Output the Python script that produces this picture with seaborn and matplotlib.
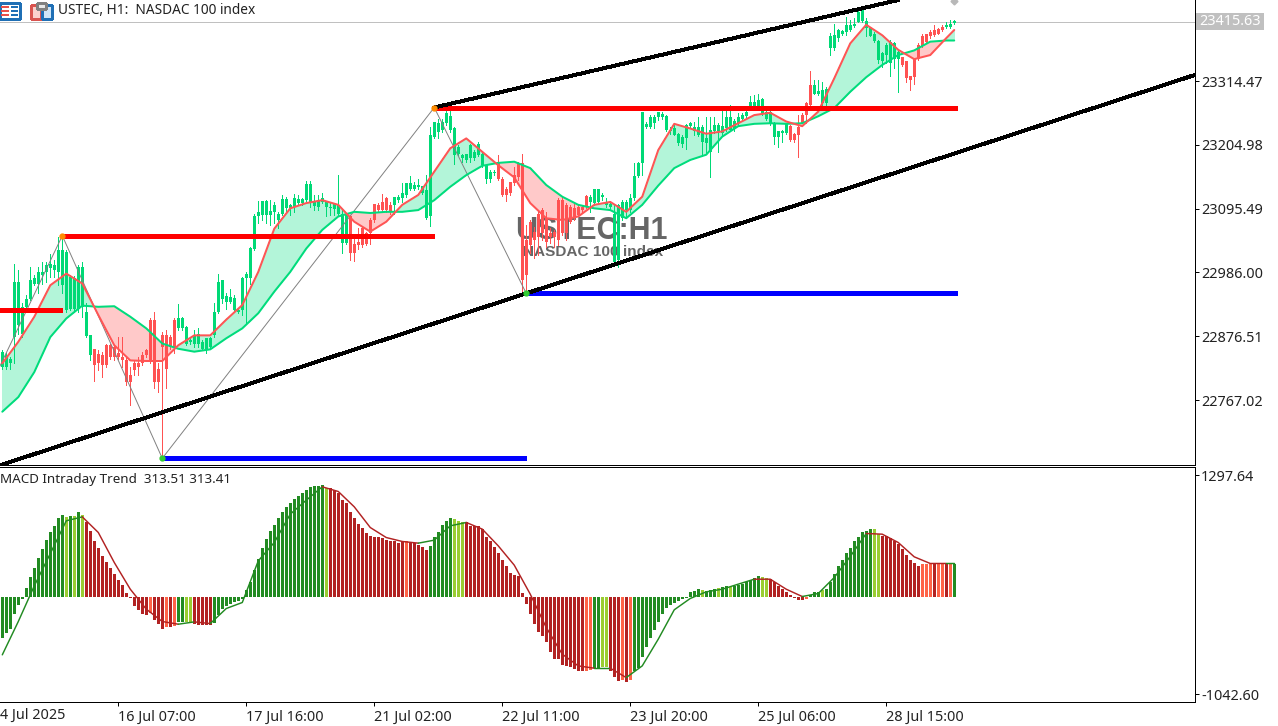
import numpy as np
import pandas as pd
import matplotlib
matplotlib.use("Agg")
import matplotlib.pyplot as plt
from matplotlib.patches import Rectangle
import seaborn as sns

# candles (one entry per bar)
body_top = [
    22850,22844,22837,22970,22970,22927,22941,22973,22976,22987,
    22987,22998,23001,22998,23024,23024,23021,22978,22977,22996,
    22996,22918,22878,22854,22846,22844,22861,22861,22858,22847,
    22841,22835,22810,22830,22830,22844,22853,22904,22904,22821,
    22878,22878,22875,22904,22907,22907,22893,22870,22878,22881,
    22867,22873,22873,22918,22970,22973,22946,22943,22942,22921,
    22977,22983,23028,23083,23090,23108,23108,23092,23102,23087,
    23112,23112,23102,23113,23112,23112,23138,23138,23109,23110,
    23113,23107,23099,23103,23102,23087,23084,23082,23035,23039,
    23062,23053,23076,23104,23102,23107,23113,23102,23115,23115,
    23122,23139,23139,23136,23136,23135,23127,23221,23244,23242,
    23245,23259,23254,23234,23202,23187,23189,23205,23193,23207,
    23190,23170,23159,23159,23174,23147,23130,23141,23153,23173,
    23173,23042,23073,23056,23087,23093,23079,23053,23056,23110,
    23110,23102,23099,23096,23099,23099,23117,23116,23129,23129,
    23119,23107,23104,23087,23102,23107,23107,23113,23151,23173,
    23262,23241,23253,23253,23262,23258,23254,23230,23233,23224,
    23219,23239,23242,23236,23235,23236,23216,23230,23239,23239,
    23237,23253,23253,23246,23252,23256,23262,23279,23279,23282,
    23283,23262,23262,23243,23229,23229,23241,23237,23224,23235,
    23256,23276,23308,23308,23298,23299,23300,23391,23393,23402,
    23401,23411,23411,23412,23433,23436,23418,23405,23396,23384,
    23362,23376,23382,23380,23365,23355,23348,23323,23352,23376,
    23392,23395,23399,23402,23403,23408,23410,23412,23417,
]
body_bottom = [
    22824,22824,22830,22875,22895,22881,22927,22941,22967,22967,
    22981,22987,22993,22990,22987,22964,22921,22924,22924,22924,
    22927,22877,22844,22827,22831,22827,22827,22841,22841,22841,
    22835,22798,22798,22818,22824,22830,22844,22835,22798,22798,
    22858,22821,22858,22858,22890,22890,22864,22867,22864,22864,
    22855,22855,22858,22878,22918,22941,22936,22936,22921,22918,
    22921,22976,22976,23026,23082,23084,23084,23084,23090,23076,
    23087,23096,23096,23099,23106,23106,23110,23107,23100,23099,
    23107,23098,23096,23094,23087,23036,23036,23020,23020,23033,
    23033,23035,23053,23076,23093,23093,23093,23090,23102,23110,
    23113,23119,23129,23130,23133,23122,23079,23082,23219,23227,
    23230,23242,23230,23187,23190,23182,23179,23182,23182,23187,
    23170,23147,23147,23156,23146,23119,23119,23122,23139,23149,
    22973,22982,23033,23042,23047,23053,23039,23047,23047,23042,
    23053,23053,23073,23079,23084,23093,23099,23107,23106,23107,
    23116,23102,23098,23004,23007,23079,23093,23093,23113,23151,
    23173,23235,23235,23242,23253,23252,23230,23229,23222,23208,
    23206,23216,23237,23229,23222,23209,23208,23193,23228,23229,
    23226,23233,23230,23232,23242,23250,23254,23270,23272,23272,
    23259,23249,23241,23218,23219,23225,23225,23214,23214,23222,
    23243,23256,23273,23293,23293,23276,23276,23371,23371,23389,
    23396,23398,23402,23409,23416,23418,23405,23392,23384,23351,
    23349,23359,23345,23353,23352,23342,23320,23316,23321,23352,
    23375,23382,23392,23393,23396,23402,23407,23407,23414,
]
wick_high = [
    22853,22847,22841,23000,22991,22933,22947,22996,22981,22996,
    23004,23004,23018,23007,23047,23044,23024,22981,22980,22998,
    23004,22933,22878,22854,22853,22850,22864,22864,22861,22875,
    22875,22841,22824,22835,22841,22850,22855,22907,22918,22830,
    22884,22887,22878,22907,22932,22910,22894,22873,22887,22890,
    22870,22873,22875,22934,22984,22973,22950,22958,22947,22924,
    22978,22987,23030,23086,23108,23108,23110,23110,23107,23090,
    23119,23116,23104,23120,23119,23113,23143,23143,23119,23119,
    23122,23107,23106,23106,23153,23093,23087,23082,23047,23062,
    23064,23056,23079,23104,23106,23121,23116,23107,23115,23119,
    23139,23140,23151,23142,23147,23135,23153,23236,23244,23250,
    23250,23264,23264,23236,23205,23190,23190,23207,23196,23210,
    23193,23170,23162,23162,23187,23149,23133,23142,23167,23176,
    23190,23067,23076,23064,23093,23096,23090,23062,23059,23113,
    23116,23105,23102,23104,23104,23102,23119,23119,23130,23130,
    23122,23113,23107,23102,23104,23111,23111,23121,23173,23176,
    23262,23245,23256,23256,23262,23262,23256,23236,23242,23225,
    23222,23241,23245,23245,23252,23239,23253,23252,23253,23242,
    23272,23272,23273,23250,23259,23259,23265,23288,23290,23293,
    23285,23265,23265,23245,23229,23230,23243,23239,23225,23256,
    23259,23279,23332,23316,23316,23313,23305,23397,23413,23403,
    23402,23424,23419,23422,23437,23437,23422,23408,23399,23385,
    23365,23379,23385,23382,23368,23356,23349,23323,23353,23379,
    23395,23396,23402,23411,23405,23411,23415,23419,23419,
]
wick_low = [
    22821,22821,22821,22830,22881,22875,22921,22938,22964,22950,
    22967,22970,22978,22978,22964,22950,22918,22921,22918,22918,
    22910,22875,22835,22799,22818,22807,22824,22838,22835,22838,
    22824,22793,22758,22810,22810,22827,22841,22830,22787,22781,
    22670,22787,22855,22847,22887,22887,22861,22864,22858,22858,
    22853,22848,22855,22875,22916,22933,22924,22933,22918,22916,
    22913,22898,22967,23024,23070,23076,23070,23067,23070,23062,
    23084,23090,23084,23090,23104,23102,23109,23099,23093,23093,
    23106,23082,23084,23084,23084,23019,23035,23007,23006,23027,
    23030,23033,23035,23073,23092,23090,23090,23087,23087,23107,
    23107,23116,23127,23127,23130,23121,23078,23066,23216,23216,
    23227,23239,23227,23172,23187,23176,23176,23176,23179,23185,
    23167,23139,23142,23153,23145,23117,23109,23119,23136,23145,
    22953,22953,23019,23010,23016,23042,23030,23036,23030,23033,
    23050,23042,23070,23076,23082,23090,23096,23090,23102,23104,
    23110,23099,23093,22999,22996,23076,23079,23090,23110,23149,
    23153,23233,23233,23233,23248,23250,23228,23223,23222,23205,
    23202,23198,23236,23222,23220,23185,23190,23149,23225,23192,
    23222,23228,23228,23228,23239,23248,23253,23268,23270,23268,
    23256,23248,23239,23206,23201,23209,23224,23212,23210,23184,
    23242,23242,23272,23292,23290,23273,23270,23359,23368,23384,
    23393,23393,23401,23408,23415,23416,23391,23391,23382,23345,
    23339,23345,23323,23336,23296,23340,23313,23299,23310,23351,
    23373,23380,23389,23392,23395,23401,23405,23405,23412,
]
# bars where the candles are drawn red (first, last)
red_spans = [(23, 43), (87, 97), (124, 146), (197, 202), (225, 235)]

# moving averages, read every 4th bar
ma_bars = list(range(0, 237, 4)) + [238]
ma_fast = [
    22830,22867,22910,22964,22984,22967,22913,22861,22835,22834,22834,22861,22878,22878,22905,
    22930,22987,23061,23096,23105,23110,23102,23073,23056,23073,23102,23119,23159,23199,23216,
    23193,23170,23149,23105,23079,23076,23082,23102,23107,23090,23116,23196,23241,23233,23224,
    23228,23242,23256,23260,23245,23237,23262,23319,23379,23411,23393,23368,23352,23359,23388,23402,
]
ma_slow = [
    22747,22772,22815,22875,22907,22929,22927,22928,22910,22890,22864,22855,22850,22854,22873,
    22890,22916,22953,22987,23027,23059,23082,23090,23088,23090,23090,23093,23110,23133,23153,
    23169,23174,23176,23165,23136,23116,23102,23096,23093,23079,23102,23135,23165,23179,23188,
    23219,23237,23241,23242,23241,23242,23254,23268,23296,23321,23342,23359,23367,23382,23384,23384,
]

# zigzag and drawn levels
zigzag_bars = [-2, 15, 40, 108, 131]
zigzag_prices = [22805, 23049, 22667, 23269, 22950]
red_levels = [(-1, 15, 22921), (15, 108, 23049), (108, 238.7, 23269)]
blue_levels = [(40, 131, 22667), (131, 238.7, 22950)]
lower_channel = ([-0.6, 298.2], [22655, 23325])
upper_channel = ([108, 224], [23269, 23453.5])
last_price = 23415.63

# MACD histogram
hist = [
    -445,-392,-346,-185,-89,-28,89,207,303,410,506,606,687,755,837,866,848,855,862,898,
    866,791,695,598,516,435,367,303,239,178,118,36,-18,-100,-142,-185,-196,-178,-256,-292,
    -346,-331,-321,-313,-267,-267,-267,-267,-292,-303,-303,-303,-303,-285,-196,-135,-100,-78,-61,-53,
    -28,71,160,285,399,516,613,695,766,837,898,955,997,1044,1069,1104,1140,1175,1183,1186,
    1193,1158,1158,1140,1104,1033,997,908,837,777,730,677,648,641,634,623,606,588,588,577,
    588,588,577,570,552,534,492,541,634,687,766,812,844,830,812,791,801,755,755,748,
    723,641,588,527,463,392,321,256,232,214,36,-78,-185,-292,-381,-427,-481,-588,-666,-666,
    -730,-741,-755,-777,-791,-791,-791,-784,-766,-759,-755,-755,-801,-862,-898,-891,-908,-891,-801,-766,
    -641,-541,-445,-356,-267,-185,-125,-96,-64,-43,-25,-11,43,57,78,71,64,71,85,93,
    100,107,100,114,121,135,150,178,196,214,207,196,185,150,114,78,53,18,-18,-32,
    -36,-25,18,43,53,71,78,160,242,328,392,463,516,588,641,684,702,720,720,670,
    648,648,623,588,563,506,445,385,356,328,349,349,346,346,346,346,346,346,349,
]
hist_runs = [
    ("g",16),("l",1),("g",1),("l",1),("g",1),("l",1),("r",16),("s",1),("r",3),("s",1),("r",1),("s",1),
    ("g",2),("l",2),("r",5),("g",28),("l",1),("r",19),("s",1),("r",5),("g",6),("l",3),("r",30),("s",2),
    ("g",2),("l",2),("r",3),("s",1),("r",1),("s",1),("g",17),("l",1),("g",3),("l",1),("g",2),("l",1),
    ("g",7),("l",2),("r",9),("s",1),("g",3),("l",1),("g",12),("l",2),("r",10),("s",3),("r",1),("s",2),
    ("r",1),("s",1),("g",1),
]
hist_palette = {"g": "#228B22", "l": "#9ACD32", "r": "#B22222", "s": "#FF6347"}

# MACD signal line, read every 4th bar, coloured by runs of segments
signal = [
    -623,-267,114,459,809,851,684,363,78,-135,-267,-296,-271,-289,-128,-64,381,577,880,1029,
    1172,1122,958,737,630,588,570,602,755,791,720,541,335,25,-331,-616,-741,-766,-766,-866,
    -741,-456,-142,-21,50,78,132,185,185,78,0,32,203,427,673,666,577,424,353,353,353,
]
signal_runs = [
    ("g",5),("r",6),("g",1),("r",1),("g",7),("r",6),("g",3),("r",8),("g",1),("r",1),("g",8),
    ("r",3),("g",4),("r",5),("g",1),
]

price_ticks = [23423.96, 23314.47, 23204.98, 23095.49, 22986.00, 22876.51, 22767.02]
macd_ticks = [1297.64, -1042.60]
time_bars = [29, 61, 93, 125, 157, 189, 221]
time_labels = ["16 Jul 07:00", "17 Jul 16:00", "21 Jul 02:00", "22 Jul 11:00",
               "23 Jul 20:00", "25 Jul 06:00", "28 Jul 15:00"]

W, H = 1278, 726
FONT = "Noto Sans"
GREEN, RED = "#00D976", "#FF5252"
TICK_SIZE = 10.4

sns.set_theme(style="white")
plt.rcParams["font.family"] = [FONT, "DejaVu Sans"]
plt.rcParams["lines.antialiased"] = False
plt.rcParams["patch.antialiased"] = False

fig = plt.figure(figsize=(W / 100, H / 100), dpi=100, facecolor="white")
ax1 = fig.add_axes([0, 1 - 464.5 / H, 1195 / W, 464.5 / H])
ax2 = fig.add_axes([0, 1 - 702 / H, 1195 / W, (702 - 466.5) / H])

bars = np.arange(len(body_top))
is_red = np.zeros(len(bars), dtype=bool)
for first, last in red_spans:
    is_red[first:last + 1] = True
candle_colors = np.where(is_red, RED, GREEN)

# watermark sits behind everything
ax1.text(591.5 / W, 1 - 231.5 / H, "USTEC:H1", transform=fig.transFigure, ha="center", va="center",
         fontsize=22, fontweight="bold", family="Liberation Sans", color="#666666", zorder=0.5)
ax1.text(593 / W, 1 - 251.5 / H, "NASDAC 100 index", transform=fig.transFigure, ha="center", va="center",
         fontsize=11.1, fontweight="bold", family="Liberation Sans", color="#666666", zorder=0.5)

ma_x = np.array(ma_bars)
fast = np.array(ma_fast)
slow = np.array(ma_slow)
ax1.fill_between(ma_x, fast, slow, where=fast >= slow, interpolate=True, color="#B3F5D9", lw=0, zorder=1)
ax1.fill_between(ma_x, fast, slow, where=fast <= slow, interpolate=True, color="#FFC9C9", lw=0, zorder=1)

ax1.vlines(bars, wick_low, wick_high, colors=candle_colors, lw=0.72, antialiased=False, zorder=2)
ax1.bar(bars, np.array(body_top) - np.array(body_bottom), bottom=body_bottom, width=0.76,
        color=candle_colors, linewidth=0, antialiased=False, zorder=2.1)

sns.lineplot(x=zigzag_bars, y=zigzag_prices, color="#808080", linewidth=0.7, estimator=None, sort=False,
             antialiased=True, ax=ax1, zorder=2.5)
sns.lineplot(x=ma_bars, y=ma_slow, color="#00DC7C", linewidth=1.45, estimator=None, antialiased=True, ax=ax1, zorder=3)
sns.lineplot(x=ma_bars, y=ma_fast, color="#FF5555", linewidth=1.45, estimator=None, antialiased=True, ax=ax1, zorder=3.1)

for start, end, level in red_levels:
    ax1.plot([start, end], [level, level], color="#FF0000", lw=3.4, solid_capstyle="butt", zorder=4)
for start, end, level in blue_levels:
    ax1.plot([start, end], [level, level], color="#0000FF", lw=3.4, solid_capstyle="butt", zorder=4)
ax1.plot(*lower_channel, color="black", lw=2.1, zorder=4.5)
ax1.plot(*upper_channel, color="black", lw=2.1, zorder=4.5)
ax1.axhline(last_price, color="#C0C0C0", lw=0.72, zorder=1.5)

ax1.plot([15, 108], [zigzag_prices[1], zigzag_prices[3]], ls="", marker="o", ms=3.5, color="#FF8C00", zorder=5)
ax1.plot([40, 131], [zigzag_prices[2], zigzag_prices[4]], ls="", marker="o", ms=3.5, color="#32CD32", zorder=5)
ax1.plot([238], [23451], ls="", marker="D", ms=3.5, color="#B8B8B8", zorder=5)

ax1.set_xlim(-0.575, 298.2)
ax1.set_ylim(22656.4, 23453.5)
ax1.set_xticks([])
ax1.set_xlabel("")
ax1.set_ylabel("")
ax1.yaxis.tick_right()
ax1.set_yticks(price_ticks)
ax1.set_yticklabels([f"{t:.2f}" for t in price_ticks])

# indicator window
hist_states = "".join(s * n for s, n in hist_runs)
df = pd.DataFrame({"bar": bars, "hist": hist, "state": list(hist_states)})
sns.barplot(data=df, x="bar", y="hist", hue="state", palette=hist_palette, native_scale=True,
            dodge=False, width=0.76, saturation=1, legend=False, linewidth=0, antialiased=False,
            ax=ax2, zorder=2)

signal_bars = ma_bars
pos = 0
for state, n in signal_runs:
    sns.lineplot(x=signal_bars[pos:pos + n + 1], y=signal[pos:pos + n + 1], color=hist_palette[state],
                 linewidth=1.05, estimator=None, antialiased=True, ax=ax2, zorder=3)
    pos += n

ax2.set_xlim(-0.575, 298.2)
ax2.set_ylim(-1127, 1389)
ax2.set_xlabel("")
ax2.set_ylabel("")
ax2.yaxis.tick_right()
ax2.set_yticks(macd_ticks)
ax2.set_yticklabels([f"{t:.2f}" for t in macd_ticks])
ax2.set_xticks(time_bars)
ax2.set_xticklabels(time_labels, ha="left")

for ax in (ax1, ax2):
    for side in ("left", "top"):
        ax.spines[side].set_visible(False)
    for side in ("right", "bottom"):
        ax.spines[side].set_color("black")
        ax.spines[side].set_linewidth(0.72)
    ax.tick_params(axis="y", length=3, width=0.72, color="black", pad=1.5, labelsize=TICK_SIZE, labelcolor="#222222", right=True, left=False)
    ax.patch.set_alpha(0)
ax2.spines["top"].set_visible(True)
ax2.spines["top"].set_color("black")
ax2.spines["top"].set_linewidth(0.72)
ax2.tick_params(axis="x", length=3, width=0.72, color="black", pad=2.5, labelsize=TICK_SIZE, labelcolor="#222222", bottom=True)

# left-most texts, the reference shows them running up to the window edge
fig.text(0.5 / W, 1 - 715 / H, "4 Jul 2025", ha="left", va="center", fontsize=TICK_SIZE, color="#222222")
fig.text(0.5 / W, 1 - 479 / H, "MACD Intraday Trend  313.51 313.41", ha="left", va="center", fontsize=9.7, color="#222222")

# current price tag
fig.add_artist(Rectangle((1196 / W, 1 - 30 / H), 68 / W, 17 / H, transform=fig.transFigure, color="#C0C0C0", lw=0))
fig.text(1230 / W, 1 - 21.5 / H, "23415.63", ha="center", va="center", fontsize=TICK_SIZE, color="white")

# header
fig.add_artist(Rectangle((0, 1 - 19 / H), 20 / W, 16 / H, transform=fig.transFigure, fc="white", ec="#1F6FB5", lw=0.9))
for y in (7, 11, 15):
    fig.add_artist(Rectangle((1 / W, 1 - (y + 1) / H), 8 / W, 2 / H, transform=fig.transFigure, color="#E8504A", lw=0))
    fig.add_artist(Rectangle((11 / W, 1 - (y + 1) / H), 7 / W, 2 / H, transform=fig.transFigure, color="#1F6FB5", lw=0))
fig.add_artist(Rectangle((31 / W, 1 - 19 / H), 10 / W, 14 / H, transform=fig.transFigure, fc="#FBD0CC", ec="#D9534F", lw=0.9))
fig.add_artist(Rectangle((42 / W, 1 - 19 / H), 10 / W, 14 / H, transform=fig.transFigure, fc="#CFE5F7", ec="#1F6FB5", lw=0.9))
fig.add_artist(Rectangle((37 / W, 1 - 9 / H), 9 / W, 6 / H, transform=fig.transFigure, fc="#E8E8E8", ec="#808080", lw=0.8))
fig.text(58 / W, 1 - 11 / H, "USTEC, H1:  NASDAC 100 index", ha="left", va="center", fontsize=9.85, color="#222222")

fig.savefig("out.png", dpi=100, facecolor="white")
